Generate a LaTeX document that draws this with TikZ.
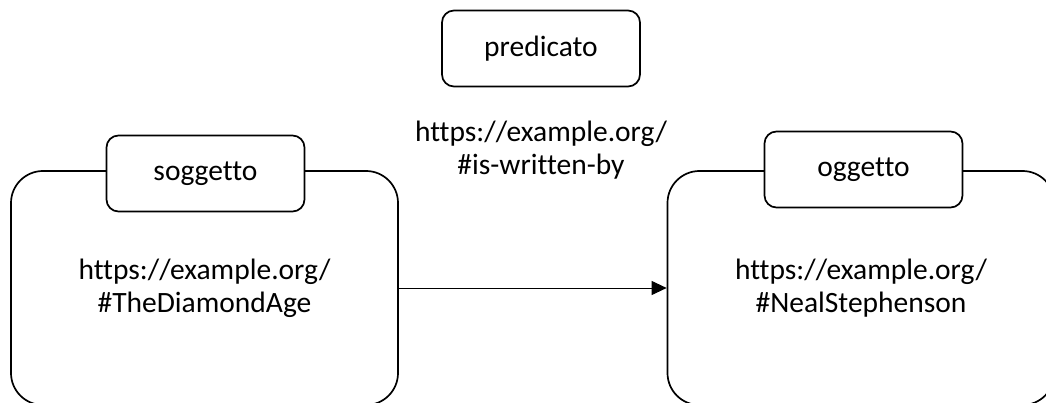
\documentclass[tikz,border=0pt]{standalone}
\usepackage{fontspec}
\setmainfont[Ligatures=NoCommon]{Carlito}
\usetikzlibrary{arrows.meta}
\begin{document}
\begin{tikzpicture}[x=1pt, y=-1pt,
  txt/.style={font=\fontsize{29.5}{33}\selectfont, align=center, text=black},
  resource/.style={txt, draw, line width=1.7pt, rounded corners=32pt,
    minimum width=387pt, minimum height=234pt, inner sep=0pt},
  tag/.style={txt, draw, fill=white, line width=1.7pt, rounded corners=12pt,
    minimum width=198pt, minimum height=76pt, inner sep=0pt},
  link/.style={line width=1pt, -{Triangle[length=15pt, width=14pt]}}
]
\useasboundingbox (0,0) rectangle (1046,403);

% resources: subject and object (their lower edges run off the page)
\node[resource] (subj) at (204.5,288) {https://example.org/\\\#TheDiamondAge};
\node[resource] (obj)  at (861,288)   {https://example.org/\\\#NealStephenson};

% role labels sitting on the top edges
\node[tag] (subjtag) at (205.5,173.5) {soggetto};
\node[tag] (objtag)  at (863.5,169.5) {oggetto};
\node[tag] (predtag) at (541,48.5)    {predicato};

% predicate IRI
\node[txt] (pred) at (541,150) {https://example.org/\\\#is-written-by};

% the triple's edge
\draw[link] (subj.east) -- (obj.west);
\end{tikzpicture}
\end{document}
